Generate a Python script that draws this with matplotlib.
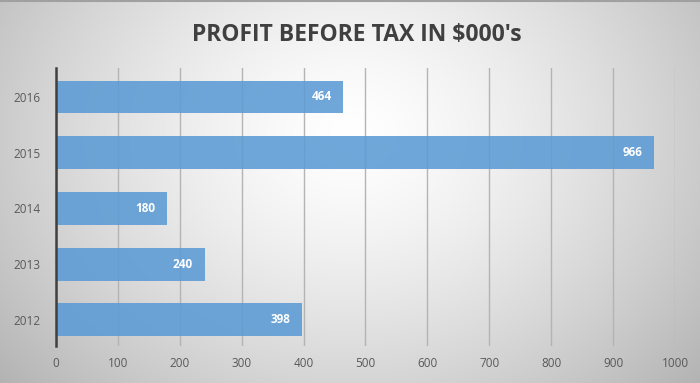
import numpy as np
import matplotlib
matplotlib.use("Agg")
import matplotlib.pyplot as plt

years = ["2012", "2013", "2014", "2015", "2016"]
profit = [398, 240, 180, 966, 464]
xticks = [0, 100, 200, 300, 400, 500, 600, 700, 800, 900, 1000]

W, H = 700, 383
fig = plt.figure(figsize=(W/100, H/100), dpi=100)

# radial gradient background
bg = fig.add_axes([0, 0, 1, 1], zorder=-10)
yy, xx = np.mgrid[0:H, 0:W]
cx, cy = W*0.5, H*0.35
r = np.sqrt(((xx-cx)/(W*0.6))**2 + ((yy-cy)/(H*0.9))**2)
v = np.clip(1.0 - 0.26*r**1.4, 0, 1)
img = np.dstack([v, v, v])
bg.imshow(img, aspect='auto', extent=[0, 1, 0, 1], origin='upper')
bg.set_xlim(0, 1); bg.set_ylim(0, 1)
bg.axis('off')
bg.plot([0, 1], [0.997, 0.997], color='#a0a0a0', lw=1.5)

ax = fig.add_axes([56/W, 1-346/H, (675-56)/W, (346-68)/H])
ax.patch.set_alpha(0)
ypos = np.arange(len(years))
ax.barh(ypos, profit, height=0.59, color='#5b9bd5', alpha=0.88, zorder=3)
for y, v_ in zip(ypos, profit):
    ax.text(v_ - 19, y, str(v_), ha='right', va='center', color='white',
            fontsize=8.5, fontweight='bold', family='Open Sans', zorder=4)

ax.set_xlim(0, 1000)
ax.set_ylim(-0.47, 4.52)
ax.set_xticks(xticks)
ax.set_xticklabels([str(t) for t in xticks], family='Open Sans', fontsize=8.5, color='#595959')
ax.set_yticks(ypos)
ax.set_yticklabels(years, family='Open Sans', fontsize=8.5, color='#595959')
ax.tick_params(axis='x', length=0, pad=8)
ax.tick_params(axis='y', length=0, pad=11)
ax.grid(axis='x', color='#b4b4b4', lw=1.0, zorder=1)
for s in ['top', 'right', 'bottom']:
    ax.spines[s].set_visible(False)
ax.spines['left'].set_color('#404040')
ax.spines['left'].set_linewidth(1.8)
ax.spines['left'].set_zorder(5)

fig.text(357/W, 1-35/H, "PROFIT BEFORE TAX IN $000's", ha='center', va='center',
         fontsize=16.5, fontweight='bold', family='Open Sans', color='#404040')

fig.savefig('out.png', dpi=100)
